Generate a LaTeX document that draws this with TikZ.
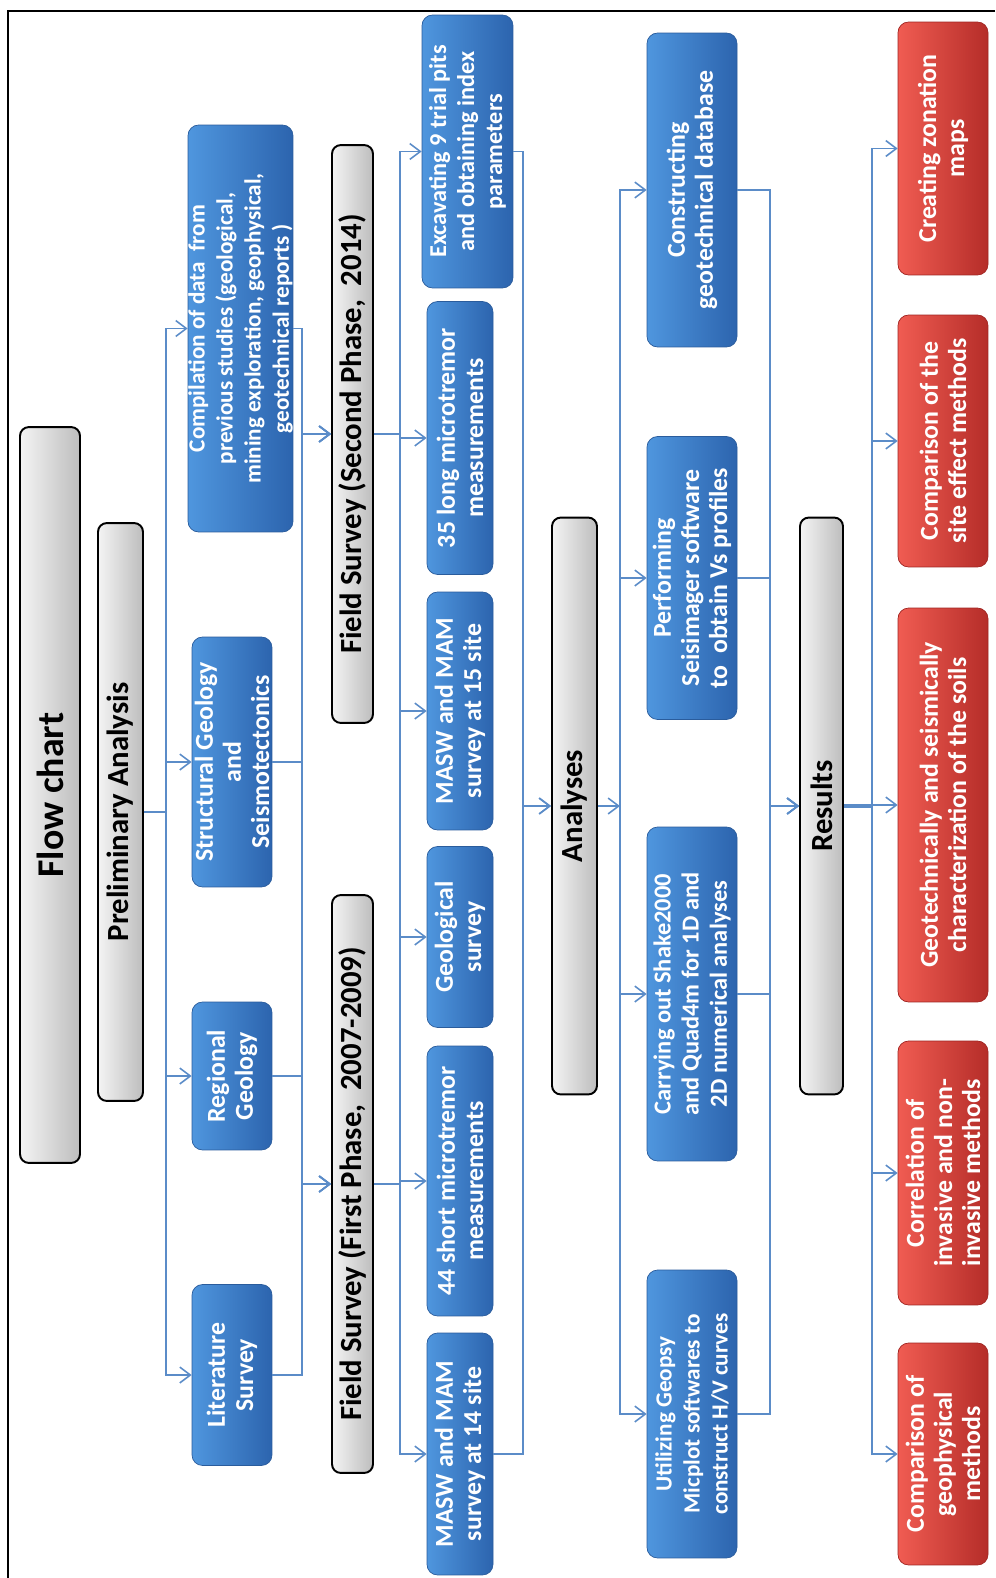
\documentclass[tikz,border=0pt]{standalone}
\usepackage{fontspec}
\setmainfont{Carlito}
\usetikzlibrary{arrows.meta,calc}
\definecolor{wire}{HTML}{5B8CC8}
\definecolor{bluelite}{HTML}{4F96DE}
\definecolor{bluedark}{HTML}{2C64AE}
\definecolor{blueedge}{HTML}{2A5C9C}
\definecolor{redlite}{HTML}{F05C52}
\definecolor{reddark}{HTML}{B52D29}
\definecolor{rededge}{HTML}{A02522}
\definecolor{greylite}{HTML}{F4F4F4}
\definecolor{greydark}{HTML}{BDBDBD}

\begin{document}
\begin{tikzpicture}[x=0.02cm,y=-0.02cm,>={Straight Barb[length=6pt,width=9pt]},
    head/.style={draw=black,line width=1.1pt,rounded corners=5pt,rotate=90,left color=greylite,right color=greydark,inner sep=0pt,font=\bfseries\fontsize{17.5}{20}\selectfont},
    task/.style={draw=blueedge,rounded corners=6pt,rotate=90,left color=bluelite,right color=bluedark,text=white,align=center,inner sep=0pt,font=\bfseries\fontsize{14.7}{16}\selectfont},
    dense/.style={font=\bfseries\fontsize{13.2}{16}\selectfont},
    outcome/.style={task,draw=rededge,left color=redlite,right color=reddark},
    wire/.style={draw=wire,line width=0.9pt}]
  \useasboundingbox (0,0) rectangle (995,1578);
  \draw[line width=1.1pt] (995,11) -- (8,11) -- (8,1578);

  % headers
  \node[head,minimum width=14.72cm,minimum height=1.2cm,font=\bfseries\fontsize{21.5}{24}\selectfont] (flow) at (50,795) {Flow chart};
  \node[head,minimum width=11.56cm,minimum height=0.9cm] (prelim) at (120.5,812) {Preliminary Analysis};
  \node[head,minimum width=11.56cm,minimum height=0.82cm] (fs2) at (352.5,434) {Field Survey (Second Phase,~ 2014)};
  \node[head,minimum width=11.56cm,minimum height=0.82cm] (fs1) at (352.5,1184) {Field Survey (First Phase,~ 2007-2009)};
  \node[head,minimum width=11.54cm,minimum height=0.9cm] (analyses) at (574.5,806) {Analyses};
  \node[head,minimum width=11.54cm,minimum height=0.86cm] (results) at (821.5,806) {Results};

  % preliminary analysis
  \node[task,dense,minimum width=8.14cm,minimum height=2.1cm] (comp) at (240.5,328.5) {Compilation of data~ from\\previous studies (geological,\\mining exploration, geophysical,\\geotechnical reports )};
  \node[task,minimum width=5.0cm,minimum height=1.6cm] (struct) at (232,762) {Structural Geology\\and\\Seismotectonics};
  \node[task,minimum width=2.96cm,minimum height=1.6cm] (regional) at (232,1076) {Regional\\Geology};
  \node[task,minimum width=3.62cm,minimum height=1.6cm] (lit) at (232,1375) {Literature\\Survey};

  % field surveys
  \node[task,dense,minimum width=5.46cm,minimum height=1.82cm,font=\bfseries\fontsize{13.8}{16}\selectfont] (exc) at (467.5,151.5) {Excavating 9 trial pits\\and obtaining index\\parameters};
  \node[task,minimum width=5.46cm,minimum height=1.32cm] (long35) at (460,438) {35 long microtremor\\measurements};
  \node[task,minimum width=4.76cm,minimum height=1.32cm] (masw15) at (460,711) {MASW and MAM\\survey at 15 site};
  \node[task,minimum width=3.62cm,minimum height=1.32cm] (geo) at (460,937) {Geological\\survey};
  \node[task,minimum width=5.4cm,minimum height=1.32cm] (short44) at (460,1181) {44 short microtremor\\measurements};
  \node[task,minimum width=4.84cm,minimum height=1.32cm] (masw14) at (460,1454) {MASW and MAM\\survey at 14 site};

  % analyses
  \node[task,minimum width=6.28cm,minimum height=1.8cm] (constr) at (692,190) {Constructing\\geotechnical database};
  \node[task,minimum width=5.66cm,minimum height=1.8cm] (perf) at (692,578) {Performing\\Seisimager software\\to~ obtain Vs profiles};
  \node[task,minimum width=6.68cm,minimum height=1.8cm,font=\bfseries\fontsize{13.9}{16}\selectfont] (carry) at (692,994) {Carrying out Shake2000\\and Quad4m for 1D and\\2D numerical analyses};
  \node[task,dense,minimum width=5.76cm,minimum height=1.8cm] (util) at (692,1414) {Utilizing Geopsy\\Micplot softwares to\\construct H/V curves};

  % results
  \node[outcome,minimum width=5.06cm,minimum height=1.8cm] (zonation) at (943,148.5) {Creating zonation\\maps};
  \node[outcome,minimum width=5.04cm,minimum height=1.8cm] (siteeff) at (943,441) {Comparison of the\\site effect methods};
  \node[outcome,minimum width=7.88cm,minimum height=1.8cm] (geotech) at (943,805) {Geotechnically and seismically\\characterization of the soils};
  \node[outcome,minimum width=5.28cm,minimum height=1.8cm] (correl) at (943,1173) {Correlation of\\invasive and non-\\invasive methods};
  \node[outcome,minimum width=4.44cm,minimum height=1.8cm] (geophys) at (943,1454) {Comparison of\\geophysical\\methods};

  % bus lines
  \coordinate (b1) at (166,0);
  \coordinate (b2) at (302,0);
  \coordinate (b3) at (400,0);
  \coordinate (b4) at (523,0);
  \coordinate (b5) at (620,0);
  \coordinate (b6) at (770,0);
  \coordinate (b7) at (872,0);
  \coordinate (hub5) at (b5 |- analyses.south);
  \coordinate (hub7) at (b7 |- results.south);

  \foreach \n in {comp,struct,regional,lit}
    \draw[wire,->] (prelim.south) -| (b1 |- \n.north) -- (\n.north);
  \foreach \n in {comp,struct,regional,lit}
    \foreach \m in {fs2,fs1}
      \draw[wire,->] (\n.south) -| (b2 |- \m.north) -- (\m.north);
  \foreach \n in {exc,long35,masw15}
    \draw[wire,->] (fs2.south) -| (b3 |- \n.north) -- (\n.north);
  \foreach \n in {geo,short44,masw14}
    \draw[wire,->] (fs1.south) -| (b3 |- \n.north) -- (\n.north);
  \draw[wire] (b3 |- masw15.north) -- (b3 |- geo.north);
  \foreach \n in {exc,masw14}
    \draw[wire,->] (\n.south) -| (b4 |- analyses.north) -- (analyses.north);
  \draw[wire,->] (analyses.south) -- (hub5);
  \foreach \n in {constr,perf,carry,util}
    \draw[wire,->] (hub5) |- (\n.north);
  \foreach \n in {constr,perf,carry,util}
    \draw[wire,->] (\n.south) -| (b6 |- results.north) -- (results.north);
  \draw[wire,line width=2.2pt] (results.south) -- (hub7);
  \foreach \n in {zonation,siteeff,geotech,correl,geophys}
    \draw[wire,->] (hub7) |- (\n.north);
\end{tikzpicture}
\end{document}
